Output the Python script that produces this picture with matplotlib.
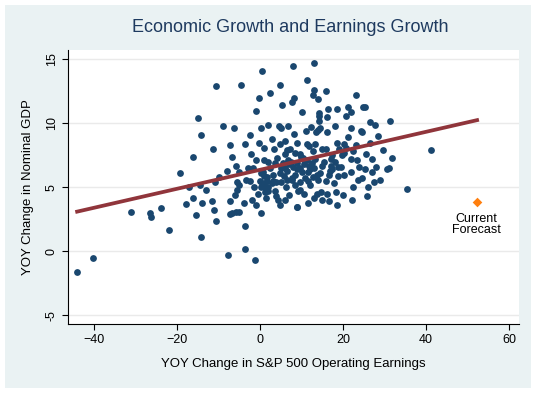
import matplotlib.pyplot as plt
from matplotlib.patches import Rectangle

plt.rcParams['font.family'] = ['Liberation Sans', 'DejaVu Sans']

# YOY change in S&P 500 operating earnings (x) vs nominal GDP (y)
earnings = [
    -44.1, -40.2, -31.0, -26.5, -26.2, -23.8, -22.0, -19.2, -17.8, -17.1,
    -16.1, -16.1, -15.5, -14.3, -14.1, -14.6, -13.1, -11.6, -11.0, -10.7,
    -10.8, -9.8, -11.3, -7.7, -7.3, -7.2, -6.7, -5.8, -5.0, -7.9,
    -6.7, -5.8, -6.0, -5.5, -5.0, -5.5, -3.9, -3.6, -3.6, -1.2,
    0.2, -2.2, -2.8, -1.6, -3.4, -1.1, 0.9,
    -10.6, -4.7, 0.5, 8.0, 2.5, 4.9, -0.2, 8.1, 7.7, 5.2,
    -1.0, -14.9, -9.0, -6.3, 0.1, 2.0, 4.5, 5.0, 6.8, 8.1,
    8.9, -14.2, -2.4, -7.3, -3.7, 1.0, 4.9, 6.6, 7.2, -5.1,
    12.9, 11.4, 12.9, 12.7, 14.0, 15.8, 23.0, 10.2, 14.1, 14.1,
    16.4, 18.5, 21.3, 21.9, 20.7, 24.7, 25.3, 16.1, 14.2, 26.5,
    27.8, 31.3, 11.1, 12.3, 13.9, 14.5, 16.1, 24.3, 24.6, 21.1,
    18.5, 20.2, 20.6, 23.0, 29.6, 41.2, 31.9, 11.2, 11.7, 12.7,
    14.9, 16.0, 9.6, 9.9, 10.4, 11.3, 13.2, 17.3, 19.7, 20.2,
    21.8, 23.4, 14.9, 17.1, 17.3, 18.8, 19.5, 21.9, 23.9, 25.4,
    27.0, 28.0, 30.6, 31.0, 29.0, 23.5, 24.6, 35.3, 16.0, 17.8,
    18.7, 20.2, 13.5, 13.3, 17.1, 11.9, 12.0, 11.6,
    4.8, 9.0, 18.6, 22.2, 25.7, 9.6, 10.6, 13.7, 14.7, 16.1,
    18.2, 0.1, 1.0, 1.6, 0.8, 7.6, 10.8, 12.0, 14.5, 16.9,
    1.5, 2.0, 1.9, 2.9, 1.2, 3.2, 5.0,
    3.9, 4.0, 4.8, 5.1, 3.6, 3.9, 4.4, 6.3, 6.8, 8.8,
    9.1, 7.8, 8.4, 8.8, 0.0, 0.5, 1.3, 1.0, 0.3, 1.7,
    5.5, 6.0, 6.5, 7.0, 7.5, 8.0, 9.0, 9.5, 10.0, 10.5,
    12.5, 13.0, 13.8, 14.0, 12.8, 11.5, 9.5, 8.5, 6.5, 5.8,
    3.0, 2.5, 3.5, 2.0, 6.0, 8.4, 15.5, 16.5, 18.0, 19.0,
    22.5, 25.5, 26.5, 28.5, 27.0, 13.0, 15.0, 11.5, 7.0, 6.0,
    16.5, 20.0, 22.5, 27.5, 26.0, -0.5, -1.5, -2.0, -1.0, -2.5,
    -0.3, 2.8, 3.3, 6.0, 18.0, 22.0,
]
gdp = [
    -1.6, -0.5, 3.1, 3.0, 2.7, 3.4, 1.7, 6.1, 3.7, 5.0,
    4.2, 7.4, 2.8, 1.1, 3.8, 5.2, 4.8, 3.9, 3.2, 2.4,
    5.4, 5.8, 8.0, -0.3, 3.9, 2.9, 3.0, 3.1, 3.1, 6.3,
    7.4, 6.7, 4.4, 4.8, 5.2, 5.4, 3.8, 2.0, 0.2, -0.7,
    3.0, 7.6, 6.5, 6.5, 5.6, 7.1, 7.1,
    12.9, 13.0, 14.1, 14.5, 12.4, 13.0, 12.0, 12.0, 11.7, 11.4,
    11.0, 10.4, 9.8, 9.6, 9.6, 9.9, 9.8, 9.6, 9.8, 9.2,
    8.5, 9.1, 9.1, 8.3, 8.4, 8.1, 8.4, 7.9, 8.0, 6.2,
    14.7, 13.4, 12.6, 12.2, 11.9, 12.5, 12.2, 10.9, 10.8, 10.6,
    11.1, 11.1, 11.3, 10.9, 10.6, 11.3, 11.3, 10.5, 10.2, 10.1,
    9.9, 10.2, 9.4, 9.7, 9.5, 9.6, 9.3, 9.4, 9.3, 8.9,
    8.5, 8.4, 8.1, 8.3, 7.9, 7.9, 7.3, 8.4, 8.2, 7.8,
    8.0, 8.0, 7.6, 7.4, 7.3, 7.1, 7.2, 7.5, 7.5, 7.7,
    7.2, 7.1, 6.7, 6.7, 6.4, 6.6, 6.6, 6.2, 6.6, 6.4,
    6.2, 6.6, 6.4, 6.5, 5.6, 5.6, 5.7, 4.9, 5.5, 5.3,
    5.9, 6.0, 9.3, 8.4, 7.2, 6.7, 6.4, 6.2,
    3.6, 3.5, 3.6, 4.0, 4.3, 4.8, 4.5, 4.5, 4.6, 4.5,
    4.6, 5.0, 5.3, 5.8, 6.2, 5.6, 5.7, 5.2, 6.1, 6.3,
    4.2, 4.7, 5.0, 5.3, 4.6, 5.5, 5.4,
    5.4, 7.3, 6.1, 6.5, 4.7, 4.3, 4.0, 5.0, 7.1, 3.5,
    4.7, 5.7, 6.0, 6.4, 5.5, 5.2, 5.0, 5.9, 6.1, 5.5,
    6.9, 6.5, 6.3, 6.8, 7.0, 6.6, 6.9, 6.5, 6.2, 6.8,
    6.9, 6.5, 6.0, 5.6, 5.8, 5.5, 5.4, 5.2, 5.6, 5.9,
    6.0, 6.5, 6.9, 7.0, 7.6, 7.7, 7.0, 6.0, 7.0, 8.0,
    7.8, 7.6, 8.5, 9.0, 7.2, 4.2, 4.0, 3.8, 4.4, 4.0,
    3.9, 4.4, 5.0, 5.4, 5.0, 4.5, 5.0, 4.0, 3.6, 5.5,
    8.5, 8.8, 8.0, 8.6, 9.8, 9.6,
]

# fitted line end points and current forecast
fit_x = [-44.1, 52.3]
fit_y = [3.1, 10.25]
forecast_x = [52.2]
forecast_y = [3.85]

fig = plt.figure(figsize=(5.37, 3.93), dpi=100)
fig.patches.append(Rectangle((5 / 537, 5 / 393), 526 / 537, 383 / 393,
                             transform=fig.transFigure, facecolor='#EAF2F3',
                             edgecolor='none', zorder=-1))
ax = fig.add_axes([68 / 537, 69 / 393, 451 / 537, 274 / 393])
ax.set_facecolor('white')

ax.scatter(earnings, gdp, s=24, color='#1A476F', zorder=3, linewidths=0)
ax.plot(fit_x, fit_y, color='#90353B', lw=2.7, zorder=4)
ax.scatter(forecast_x, forecast_y, marker='D', s=24, color='#FF7F0E', zorder=5, linewidths=0)
ax.text(52.2, 2.1, 'Current\nForecast', ha='center', va='center', fontsize=9,
        linespacing=0.95, color='black')

ax.set_xlim(-46.3, 62.4)
ax.set_ylim(-5.68, 15.73)
ax.set_xticks([-40, -20, 0, 20, 40, 60])
ax.set_yticks([-5, 0, 5, 10, 15])
ax.set_yticklabels(['-5', '0', '5', '10', '15'], rotation=90, va='center')
ax.grid(axis='y', color='#EAEAEA', lw=1)
ax.set_axisbelow(True)
for s in ['top', 'right']:
    ax.spines[s].set_visible(False)
ax.tick_params(labelsize=9, length=4, width=0.8)

ax.set_xlabel('YOY Change in S&P 500 Operating Earnings', fontsize=9.5, labelpad=8)
ax.set_ylabel('YOY Change in Nominal GDP', fontsize=9.5, labelpad=8)
fig.text(290 / 537, 1 - 28 / 393, 'Economic Growth and Earnings Growth',
         ha='center', va='center', fontsize=13, color='#1E3A5F')

fig.savefig('out.png', dpi=100)
